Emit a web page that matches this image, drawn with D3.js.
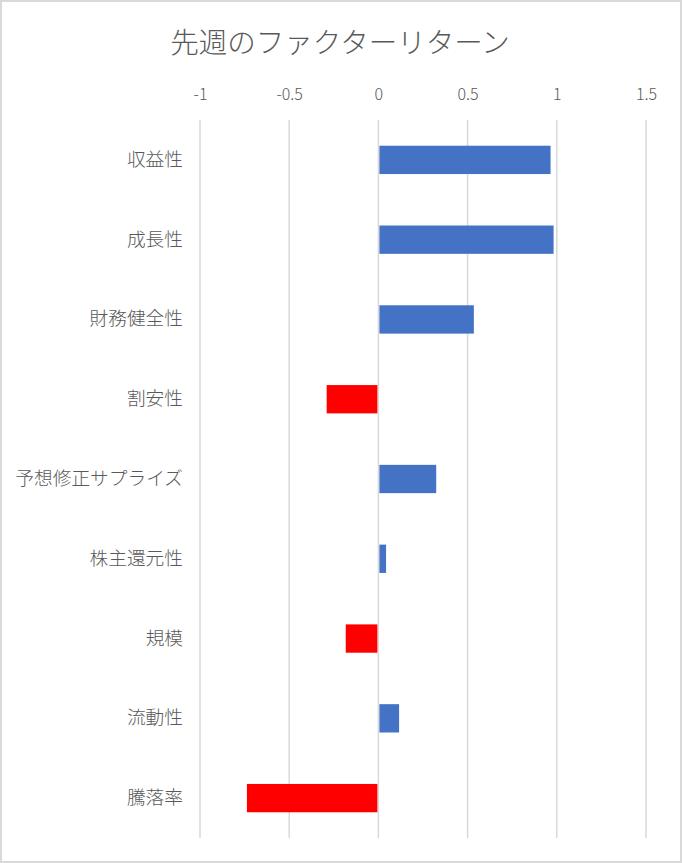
<!DOCTYPE html>
<html>
<head>
<meta charset="utf-8">
<script src="https://cdn.jsdelivr.net/npm/d3@7"></script>
<style>
  html, body { margin: 0; padding: 0; background: #fff; }
  svg text { font-family: "Noto Sans CJK JP", "Noto Sans", sans-serif; fill: #595959; font-weight: 300; }
</style>
</head>
<body>
<div id="chart"></div>
<script>
// factor returns, last week
const TITLE = '先週のファクターリターン';
const factors = ['収益性', '成長性', '財務健全性', '割安性', '予想修正サプライズ', '株主還元性', '規模', '流動性', '騰落率'];
const returns = [0.965, 0.982, 0.535, -0.29, 0.324, 0.043, -0.183, 0.116, -0.737];
const xTicks = [-1, -0.5, 0, 0.5, 1, 1.5];

const W = 682, H = 863;
const plot = { left: 200, right: 646, top: 120, bottom: 838 };

const svg = d3.select('#chart').append('svg')
    .attr('width', W).attr('height', H);

// chart frame
svg.append('rect')
    .attr('x', 1).attr('y', 1).attr('width', W - 2).attr('height', H - 2)
    .attr('fill', '#fff').attr('stroke', '#d9d9d9').attr('stroke-width', 2);

svg.append('text')
    .attr('x', 340).attr('y', 53)
    .attr('text-anchor', 'middle')
    .style('font-size', '28.5px')
    .text(TITLE);

const x = d3.scaleLinear().domain([-1, 1.5]).range([plot.left, plot.right]);
const y = d3.scaleBand().domain(factors).range([plot.top, plot.bottom]).paddingInner(0.645).paddingOuter(0.3225);

// vertical gridlines
svg.append('g').selectAll('line').data(xTicks).enter().append('line')
    .attr('x1', d => x(d)).attr('x2', d => x(d))
    .attr('y1', plot.top).attr('y2', plot.bottom)
    .attr('stroke', '#d9d9d9').attr('stroke-width', 1.5);

// top axis labels
const xAxis = d3.axisTop(x).tickValues(xTicks).tickSize(0).tickPadding(0)
    .tickFormat(d => String(d));
const gx = svg.append('g').attr('transform', 'translate(0,' + 100 + ')').call(xAxis);
gx.select('.domain').remove();
gx.selectAll('text').style('font-size', '16px').attr('fill', '#595959');

// bars (nudged 1px off the zero line, as in the original)
svg.append('g').selectAll('rect').data(factors).enter().append('rect')
    .attr('x', (d, i) => returns[i] < 0 ? x(returns[i]) : x(0) + 1)
    .attr('width', (d, i) => Math.abs(x(returns[i]) - x(0)) - 1)
    .attr('y', d => y(d))
    .attr('height', y.bandwidth())
    .attr('fill', (d, i) => returns[i] < 0 ? '#ff0000' : '#4472c4');

// category labels
const yAxis = d3.axisLeft(y).tickSize(0).tickPadding(0);
const gy = svg.append('g').attr('transform', 'translate(183,0)').call(yAxis);
gy.select('.domain').remove();
gy.selectAll('text').style('font-size', '18.7px').attr('fill', '#595959');
</script>
</body>
</html>
